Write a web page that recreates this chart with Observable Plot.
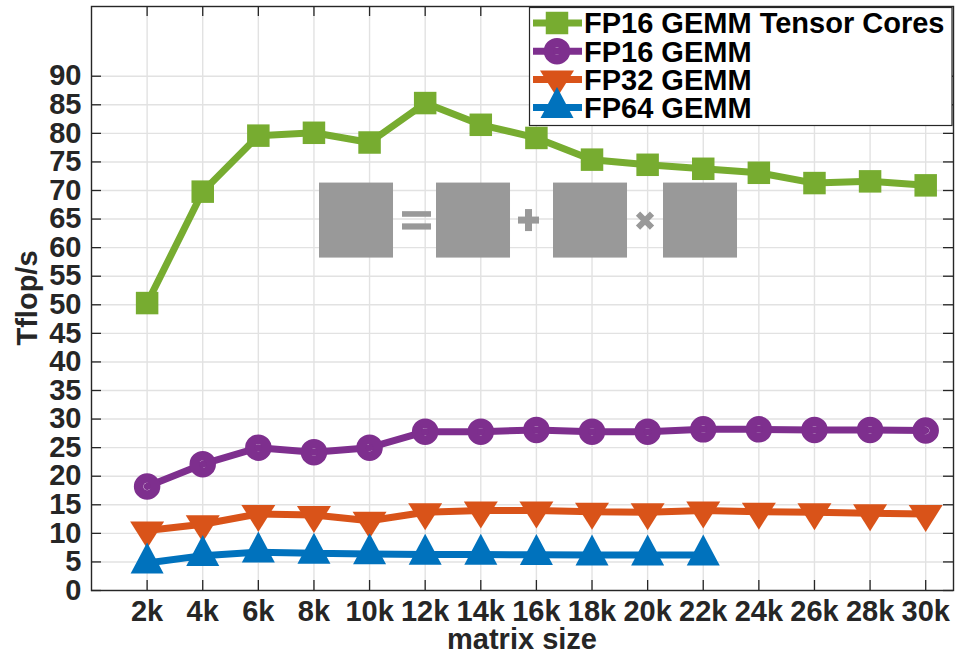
<!DOCTYPE html>
<html><head><meta charset="utf-8">
<script src="https://cdn.jsdelivr.net/npm/d3@7"></script>
<script src="https://cdn.jsdelivr.net/npm/@observablehq/plot@0.6"></script>
<style>html,body{margin:0;padding:0;background:#fff;}</style>
</head><body><div id="chart"></div>
<script>
// ---- data ----
const matrixSizes = [2,4,6,8,10,12,14,16,18,20,22,24,26,28,30]; // in k
const xTicks = [2,4,6,8,10,12,14,16,18,20,22,24,26,28,30];
const xTickLabels = ["2k","4k","6k","8k","10k","12k","14k","16k","18k","20k","22k","24k","26k","28k","30k"];
const yTicks = [0,5,10,15,20,25,30,35,40,45,50,55,60,65,70,75,80,85,90];
const seriesNames = ["FP16 GEMM Tensor Cores","FP16 GEMM","FP32 GEMM","FP64 GEMM"];
const fp16TensorCores = [50.3,69.8,79.6,80.1,78.4,85.3,81.5,79.2,75.4,74.5,73.8,73.1,71.3,71.6,70.9];
const fp16Gemm = [18.2,22.1,25.0,24.2,25.0,27.8,27.8,28.1,27.8,27.8,28.2,28.2,28.1,28.1,28.0];
const fp32Gemm = [10.5,11.6,13.4,13.2,12.2,13.7,14.0,14.0,13.8,13.7,14.0,13.8,13.7,13.5,13.4];
const fp64Gemm = [4.8,6.1,6.7,6.5,6.4,6.3,6.3,6.25,6.2,6.2,6.2];
const xLabel = "matrix size";
const yLabel = "Tflop/s";

// ---- styles ----
const colors = ["#77AC30","#7E2F8E","#D95319","#0072BD"];
const seriesValues = [fp16TensorCores, fp16Gemm, fp32Gemm, fp64Gemm];

function rectSym(w,h){return {draw(ctx){ctx.moveTo(-w/2,-h/2);ctx.lineTo(w/2,-h/2);ctx.lineTo(w/2,h/2);ctx.lineTo(-w/2,h/2);ctx.closePath();}};}
function triUp(w,h){return {draw(ctx){ctx.moveTo(0,-2*h/3);ctx.lineTo(w/2,h/3);ctx.lineTo(-w/2,h/3);ctx.closePath();}};}
function triDown(w,h){return {draw(ctx){ctx.moveTo(0,2*h/3);ctx.lineTo(w/2,-h/3);ctx.lineTo(-w/2,-h/3);ctx.closePath();}};}
function circSym(r){return {draw(ctx){ctx.moveTo(r,0);ctx.arc(0,0,r,0,2*Math.PI);}};}

const markerStyles = [
  {symbol: rectSym(22.5,22.5), fill: colors[0], stroke: "none", strokeWidth: 0},
  {symbol: circSym(8.5), fill: "none", stroke: colors[1], strokeWidth: 9.5},
  {symbol: triDown(34,27), fill: colors[2], stroke: "none", strokeWidth: 0},
  {symbol: triUp(33,31), fill: colors[3], stroke: "none", strokeWidth: 0}
];

const W = 958, H = 655;
const mL = 91, mR = 5, mT = 6, mB = 65;
const innerW = W - mL - mR, innerH = H - mT - mB;
const font = "'Liberation Sans', Arial, Helvetica, sans-serif";

const seriesMarks = [];
seriesNames.forEach((name, i) => {
  const rows = seriesValues[i].map((v, j) => ({series: name, x: matrixSizes[j], y: v}));
  seriesMarks.push(Plot.line(rows, {x: "x", y: "y", stroke: colors[i], strokeWidth: 7, strokeLinejoin: "miter"}));
  const m = markerStyles[i];
  seriesMarks.push(Plot.dot(rows, {x: "x", y: "y", symbol: () => m.symbol, r: 10, fill: m.fill, stroke: m.stroke, strokeWidth: m.strokeWidth}));
});

const plot = Plot.plot({
  width: W, height: H,
  marginLeft: mL, marginRight: mR, marginTop: mT, marginBottom: mB,
  style: {background: "white", fontFamily: font, fontWeight: "bold", fontSize: "29px", color: "#262626"},
  x: {domain: [0, 31], ticks: xTicks, tickFormat: (d) => xTickLabels[xTicks.indexOf(d)], tickSize: 0, tickPadding: 10, label: null},
  y: {domain: [0, 102.2], ticks: yTicks, tickSize: 0, tickPadding: 10, label: null},
  symbol: {type: "identity"},
  marks: [
    Plot.ruleX(xTicks, {x: d => d, stroke: "#e2e2e2", strokeWidth: 1.4}),
    Plot.ruleY(yTicks, {y: d => d, stroke: "#e2e2e2", strokeWidth: 1.4}),
    Plot.tickX(xTicks, {x: d => d, insetTop: innerH - 10, stroke: "#262626", strokeWidth: 1.3}),
    Plot.tickX(xTicks, {x: d => d, insetBottom: innerH - 10, stroke: "#262626", strokeWidth: 1.3}),
    Plot.tickY(yTicks, {y: d => d, insetRight: innerW - 10, stroke: "#262626", strokeWidth: 1.3}),
    Plot.tickY(yTicks, {y: d => d, insetLeft: innerW - 10, stroke: "#262626", strokeWidth: 1.3}),
    Plot.frame({stroke: "#262626", strokeWidth: 1.4}),
    ...seriesMarks
  ]
});
document.getElementById("chart").appendChild(plot);

const svg = d3.select(plot);
const sx = plot.scale("x"), sy = plot.scale("y");

// ---- GEMM icon (C = C + A x B) anchored in data space ----
const iconAnchor = {x: 8.2, y: 71.3};
const ox = sx.apply(iconAnchor.x), oy = sy.apply(iconAnchor.y);
const icon = svg.append("g").attr("transform", `translate(${ox},${oy})`).attr("fill", "#999999");
[0, 117, 234, 344].forEach(dx => icon.append("rect").attr("x", dx).attr("y", 0).attr("width", 74).attr("height", 75));
icon.append("rect").attr("x", 83).attr("y", 28.6).attr("width", 29).attr("height", 5.6);
icon.append("rect").attr("x", 83).attr("y", 40.8).attr("width", 29).attr("height", 6.2);
icon.append("rect").attr("x", 199).attr("y", 34).attr("width", 21).attr("height", 7);
icon.append("rect").attr("x", 206).attr("y", 26.5).attr("width", 7).attr("height", 22);
icon.append("path").attr("d", "M319,31L333,45M333,31L319,45").attr("stroke", "#999999").attr("stroke-width", 6).attr("fill", "none");

// ---- axis titles ----
svg.append("text").attr("x", mL + innerW / 2).attr("y", 649).attr("text-anchor", "middle")
  .attr("font-family", font).attr("font-weight", "bold").attr("font-size", 29).attr("fill", "#262626").text(xLabel);
svg.append("text").attr("transform", `translate(37,${mT + innerH / 2}) rotate(-90)`).attr("text-anchor", "middle")
  .attr("font-family", font).attr("font-weight", "bold").attr("font-size", 29).attr("fill", "#262626").text(yLabel);

// ---- legend ----
const lg = svg.append("g");
lg.append("rect").attr("x", 529.5).attr("y", 7.5).attr("width", 422.5).attr("height", 118).attr("fill", "white").attr("stroke", "#262626").attr("stroke-width", 1.2);
seriesNames.forEach((name, i) => {
  const cy = 23 + i * 28.2;
  lg.append("line").attr("x1", 533).attr("x2", 582).attr("y1", cy).attr("y2", cy).attr("stroke", colors[i]).attr("stroke-width", 7);
  const m = markerStyles[i];
  lg.append("path").attr("transform", `translate(557,${cy})`).attr("d", d3.symbol(m.symbol, 1)())
    .attr("fill", m.fill).attr("stroke", m.stroke).attr("stroke-width", m.strokeWidth);
  lg.append("text").attr("x", 584).attr("y", cy).attr("dy", "0.36em").attr("text-anchor", "start")
    .attr("font-family", font).attr("font-weight", "bold")
    .attr("font-size", 29).attr("fill", "black").text(name);
});
</script></body></html>
